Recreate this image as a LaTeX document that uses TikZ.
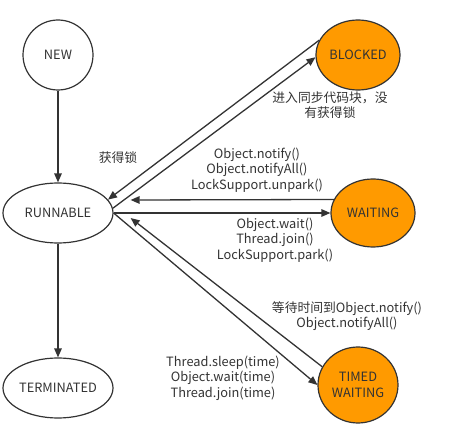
\documentclass[tikz,border=0pt]{standalone}
\usepackage{fontspec}
\setmainfont{Noto Sans CJK SC}
\usepackage[HTML]{xcolor}
\usepackage{tikz}
\usetikzlibrary{positioning, arrows.meta, shapes.geometric}

\definecolor{ink}{HTML}{333333}
\definecolor{hot}{HTML}{FF9A00}

\begin{document}
\begin{tikzpicture}[x=1pt, y=-1pt, font=\fontsize{12.8}{15.5}\selectfont, text=ink,
    state/.style={draw=ink, ellipse, line width=1.2pt, inner sep=0pt},
    busy/.style={state, fill=hot},
    arr/.style={draw=ink, line width=1.3pt, -{Triangle[length=9pt, width=7.5pt]}},
    lbl/.style={align=center, inner sep=0pt}]

\useasboundingbox (0,0) rectangle (451,425);

% --- States ---
\node[state, minimum width=70pt, minimum height=70pt] (new) at (58,55) {NEW};
\node[state, minimum width=110pt, minimum height=60pt] (runnable) at (58,213) {RUNNABLE};
\node[state, minimum width=110pt, minimum height=60pt] (terminated) at (58,388) {TERMINATED};

\node[busy, minimum width=84pt, minimum height=70pt] (blocked) at (358,55) {BLOCKED};
\node[busy, minimum width=84pt, minimum height=68pt] (waiting) at (373,213) {WAITING};
\node[busy, minimum width=80pt, minimum height=76pt, align=center] (timed) at (358,385) {TIMED\\WAITING};

% --- Transitions ---
\draw[arr] (new) -- (runnable);
\draw[arr] (runnable) -- (terminated);

\draw[arr] (runnable.5) -- (blocked.183);
\draw[arr] (blocked.159) -- (runnable.15);

\draw[arr] (waiting.161) -- ([shift={(17,-13)}]runnable.east);
\draw[arr] (runnable.east) -- (waiting.west);

\draw[arr] (runnable.east) -- (timed.west);
\draw[arr] (timed.153) -- ([shift={(17,5)}]runnable.east);

% --- Labels ---
\node[lbl] (lblocked) at (330,105) {进入同步代码块，没\\有获得锁};
\node[lbl] (lacquire) at (118,158) {获得锁};
\node[lbl] (lnotify) at (257,170) {Object.notify()\\Object.notifyAll()\\LockSupport.unpark()};
\node[lbl] (lwait) at (275,240) {Object.wait()\\Thread.join()\\LockSupport.park()};
\node[lbl] (ltimeout) at (347,316) {等待时间到Object.notify()\\Object.notifyAll()};
\node[lbl] (lsleep) at (223,378) {Thread.sleep(time)\\Object.wait(time)\\Thread.join(time)};

\end{tikzpicture}
\end{document}
